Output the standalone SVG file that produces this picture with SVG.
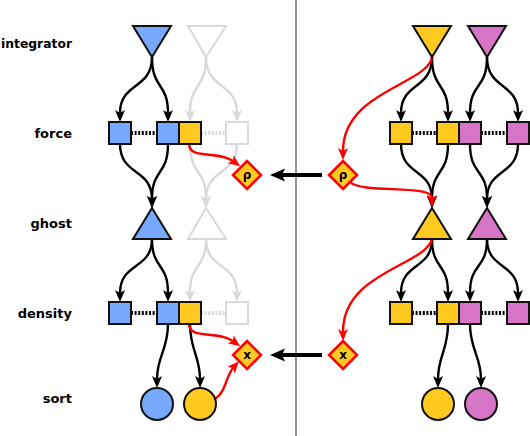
<svg xmlns="http://www.w3.org/2000/svg" width="530" height="436" viewBox="0 0 530 436">
<defs>
<style>
.lbl{font-family:"DejaVu Sans",sans-serif;font-weight:bold;font-size:13px;text-anchor:end;fill:#000}
.dt{font-family:"DejaVu Sans",sans-serif;font-weight:bold;font-size:12px;text-anchor:middle;fill:#000}
.n{stroke:#111;stroke-width:2;stroke-linejoin:miter}
.blue{fill:#77aaff}
.yel{fill:#ffc91f}
.pink{fill:#d675c6}
.ghostn{fill:#fff;stroke:#d9d9d9;stroke-width:2}
.dia{fill:#ffc91f;stroke:#ff0000;stroke-width:2.5}
.e{fill:none;stroke:#000;stroke-width:2.4;marker-end:url(#ah)}
.g{fill:none;stroke:#d9d9d9;stroke-width:2.4;marker-end:url(#ahg)}
.r{fill:none;stroke:#ff0000;stroke-width:2.4;marker-end:url(#ahr)}
.dot{stroke:#000;stroke-width:4;stroke-dasharray:2 1.6}
.dotg{stroke:#d9d9d9;stroke-width:4;stroke-dasharray:2 1.6}
.big{stroke:#000;stroke-width:4;marker-end:url(#big)}
</style>
<marker id="ah" markerUnits="userSpaceOnUse" markerWidth="13" markerHeight="11" refX="3" refY="5" orient="auto" viewBox="0 0 13 11"><path d="M0,0 L12,5 L0,10 L3,5 z" fill="#000"/></marker>
<marker id="ahg" markerUnits="userSpaceOnUse" markerWidth="13" markerHeight="11" refX="3" refY="5" orient="auto" viewBox="0 0 13 11"><path d="M0,0 L12,5 L0,10 L3,5 z" fill="#d9d9d9"/></marker>
<marker id="ahr" markerUnits="userSpaceOnUse" markerWidth="13" markerHeight="11" refX="3" refY="5" orient="auto" viewBox="0 0 13 11"><path d="M0,0 L12,5 L0,10 L3,5 z" fill="#ff0000"/></marker>
<marker id="big" markerUnits="userSpaceOnUse" markerWidth="16" markerHeight="14" refX="3" refY="6.5" orient="auto" viewBox="0 0 16 14"><path d="M0,0 L15,6.5 L0,13 L3,6.5 z" fill="#000"/></marker>
</defs>
<rect width="530" height="436" fill="#fff"/>
<line x1="296" y1="0" x2="296" y2="436" stroke="#555" stroke-width="1.3"/>

<g id="labels">
<text class="lbl" x="72" y="48" textLength="71" lengthAdjust="spacingAndGlyphs">integrator</text>
<text class="lbl" x="72" y="138">force</text>
<text class="lbl" x="72" y="228">ghost</text>
<text class="lbl" x="72" y="318">density</text>
<text class="lbl" x="72" y="403">sort</text>
</g>

<g id="connectors">
<path class="g" d="M206,57 C206,90 190,82 190,113"/>
<path class="g" d="M206,57 C206,90 237,82 237,113"/>
<path class="g" d="M190,144 C190,176 206,168 206,199"/>
<path class="g" d="M237,144 C237,176 206,168 206,199"/>
<path class="g" d="M206,239 C206,270 190,262 190,293"/>
<path class="g" d="M206,239 C206,270 237,262 237,293"/>
<line class="dotg" x1="201" y1="133" x2="226" y2="133"/>
<line class="dotg" x1="201" y1="313" x2="226" y2="313"/>
<path class="e" d="M152,57 C152,90 120,82 120,113"/>
<path class="e" d="M152,57 C152,90 168,82 168,113"/>
<path class="e" d="M120,144 C120,176 152,168 152,199"/>
<path class="e" d="M168,144 C168,176 152,168 152,199"/>
<path class="e" d="M152,239 C152,270 120,262 120,293"/>
<path class="e" d="M152,239 C152,270 168,262 168,293"/>
<path class="e" d="M168,324 C168,350 157,356 157,379"/>
<path class="e" d="M190,324 C190,350 200,356 200,379"/>
<line class="dot" x1="131" y1="133" x2="157" y2="133"/>
<line class="dot" x1="131" y1="313" x2="157" y2="313"/>
<path class="e" d="M432,57 C432,90 401,82 401,113"/>
<path class="e" d="M432,57 C432,90 448,82 448,113"/>
<path class="e" d="M487,57 C487,90 470,82 470,113"/>
<path class="e" d="M487,57 C487,90 518,82 518,113"/>
<path class="e" d="M401,144 C401,176 432,168 432,199"/>
<path class="e" d="M448,144 C448,176 432,168 432,199"/>
<path class="e" d="M470,144 C470,176 487,168 487,199"/>
<path class="e" d="M518,144 C518,176 487,168 487,199"/>
<path class="e" d="M432,239 C432,270 401,262 401,293"/>
<path class="e" d="M432,239 C432,270 448,262 448,293"/>
<path class="e" d="M487,239 C487,270 470,262 470,293"/>
<path class="e" d="M487,239 C487,270 518,262 518,293"/>
<path class="e" d="M448,324 C448,350 438,356 438,379"/>
<path class="e" d="M470,324 C470,350 481,356 481,379"/>
<line class="dot" x1="412" y1="133" x2="437" y2="133"/>
<line class="dot" x1="481" y1="133" x2="507" y2="133"/>
<line class="dot" x1="412" y1="313" x2="437" y2="313"/>
<line class="dot" x1="481" y1="313" x2="507" y2="313"/>
<path class="r" d="M189,144 C189,160 218,150 233,161"/>
<path class="r" d="M189,324 C189,340 218,330 233,341"/>
<path class="r" d="M215,399 C226,392 226,376 233,368"/>
<path class="r" d="M432,58 C425,85 343,92 343,151"/>
<path class="r" d="M350,182 C362,194 432,184 432,198"/>
<path class="r" d="M432,239 C425,266 343,272 343,332"/>
<line class="big" x1="322" y1="175" x2="282" y2="175"/>
<line class="big" x1="322" y1="355" x2="282" y2="355"/>
</g>

<g id="int-blue"><polygon class="n blue" points="133,26 171,26 152,57"/></g>
<g id="int-gray"><polygon class="ghostn" points="188,26 226,26 206,57"/></g>
<g id="int-yellow"><polygon class="n yel" points="413,26 451,26 432,57"/></g>
<g id="int-pink"><polygon class="n pink" points="468,26 506,26 487,57"/></g>

<g id="force-b1"><rect class="n blue" x="109" y="122" width="22" height="22"/></g>
<g id="force-b2"><rect class="n blue" x="157" y="122" width="22" height="22"/></g>
<g id="force-y"><rect class="n yel" x="179" y="122" width="22" height="22"/></g>
<g id="force-g"><rect class="ghostn" x="226" y="122" width="22" height="22"/></g>
<g id="force-y1"><rect class="n yel" x="390" y="122" width="22" height="22"/></g>
<g id="force-y2"><rect class="n yel" x="437" y="122" width="22" height="22"/></g>
<g id="force-p1"><rect class="n pink" x="459" y="122" width="22" height="22"/></g>
<g id="force-p2"><rect class="n pink" x="507" y="122" width="22" height="22"/></g>

<g id="rho-left"><polygon class="dia" points="247,161 261,175 247,189 233,175"/><text class="dt" x="247" y="179">ρ</text></g>
<g id="rho-right"><polygon class="dia" points="343,161 357,175 343,189 329,175"/><text class="dt" x="343" y="179">ρ</text></g>

<g id="ghost-blue"><polygon class="n blue" points="152,208 171,239 133,239"/></g>
<g id="ghost-gray"><polygon class="ghostn" points="206,208 226,239 188,239"/></g>
<g id="ghost-yellow"><polygon class="n yel" points="432,208 451,239 413,239"/></g>
<g id="ghost-pink"><polygon class="n pink" points="487,208 506,239 468,239"/></g>

<g id="dens-b1"><rect class="n blue" x="109" y="302" width="22" height="22"/></g>
<g id="dens-b2"><rect class="n blue" x="157" y="302" width="22" height="22"/></g>
<g id="dens-y"><rect class="n yel" x="179" y="302" width="22" height="22"/></g>
<g id="dens-g"><rect class="ghostn" x="226" y="302" width="22" height="22"/></g>
<g id="dens-y1"><rect class="n yel" x="390" y="302" width="22" height="22"/></g>
<g id="dens-y2"><rect class="n yel" x="437" y="302" width="22" height="22"/></g>
<g id="dens-p1"><rect class="n pink" x="459" y="302" width="22" height="22"/></g>
<g id="dens-p2"><rect class="n pink" x="507" y="302" width="22" height="22"/></g>

<g id="x-left"><polygon class="dia" points="247,341 261,355 247,369 233,355"/><text class="dt" x="247" y="359">x</text></g>
<g id="x-right"><polygon class="dia" points="343,341 357,355 343,369 329,355"/><text class="dt" x="343" y="359">x</text></g>

<g id="sort-blue"><circle class="n blue" cx="157" cy="404" r="16"/></g>
<g id="sort-yellow-l"><circle class="n yel" cx="200" cy="404" r="16"/></g>
<g id="sort-yellow-r"><circle class="n yel" cx="438" cy="404" r="16"/></g>
<g id="sort-pink"><circle class="n pink" cx="481" cy="404" r="16"/></g>
</svg>
